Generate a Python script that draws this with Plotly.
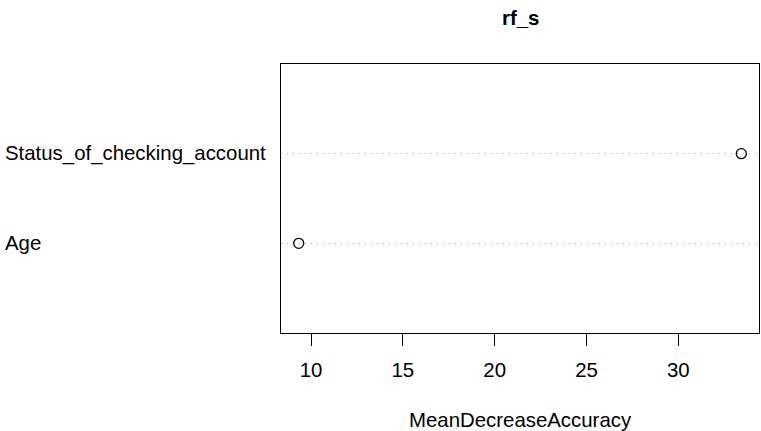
import plotly.graph_objects as go

# Variable importance (random forest "rf_s")
variables = ["Age", "Status_of_checking_account"]
mean_decrease_accuracy = [9.33, 33.43]
x_ticks = [10, 15, 20, 25, 30]

W, H = 761, 431
L, R, T, B = 281, 2, 64, 98
FONT = "Liberation Sans, Arial, sans-serif"
FS = 20.4

ypos = list(range(1, len(variables) + 1))
lo, hi = min(mean_decrease_accuracy), max(mean_decrease_accuracy)
pad = 0.04 * (hi - lo)

fig = go.Figure(
    go.Scatter(
        x=mean_decrease_accuracy,
        y=ypos,
        mode="markers",
        marker=dict(symbol="circle-open", size=10, color="black",
                    line=dict(width=1.3, color="black")),
        hoverinfo="x+text",
        text=variables,
    )
)

plot_w = W - L - R
plot_h = H - T - B


def paper_y(px):
    """Convert a pixel row (from the top) into paper y coordinates."""
    return (H - B - px) / plot_h


# Left-aligned variable names next to the plot area
for name, y in zip(variables, ypos):
    fig.add_annotation(
        text=name, x=(3 - L) / plot_w, xref="paper", y=y, yref="y",
        xanchor="left", yanchor="middle", showarrow=False,
        font=dict(family=FONT, size=FS, color="black"),
    )

fig.add_annotation(
    text="<b>rf_s</b>", x=0.5, xref="paper", y=paper_y(18), yref="paper",
    showarrow=False, xanchor="center", yanchor="middle",
    font=dict(family=FONT, size=FS, color="black"),
)
fig.add_annotation(
    text="MeanDecreaseAccuracy", x=0.5, xref="paper", y=paper_y(420), yref="paper",
    showarrow=False, xanchor="center", yanchor="middle",
    font=dict(family=FONT, size=FS, color="black"),
)

fig.update_layout(
    width=W, height=H,
    margin=dict(l=L, r=R, t=T, b=B),
    paper_bgcolor="white", plot_bgcolor="white",
    showlegend=False,
    font=dict(family=FONT, size=FS, color="black"),
    xaxis=dict(
        range=[lo - pad, hi + pad], tickvals=x_ticks,
        ticks="outside", ticklen=12, tickcolor="black", tickwidth=1,
        ticklabelstandoff=7,
        showline=True, linecolor="black", linewidth=1, mirror=True,
        showgrid=False, zeroline=False,
        tickfont=dict(family=FONT, size=FS, color="black"),
    ),
    yaxis=dict(
        range=[0, len(variables) + 1], tickvals=ypos, showticklabels=False,
        ticks="", showline=True, linecolor="black", linewidth=1, mirror=True,
        showgrid=True, gridcolor="#b4b4b4", griddash="1px,5px", gridwidth=1,
        zeroline=False,
    ),
)

fig.write_html("out.html")
